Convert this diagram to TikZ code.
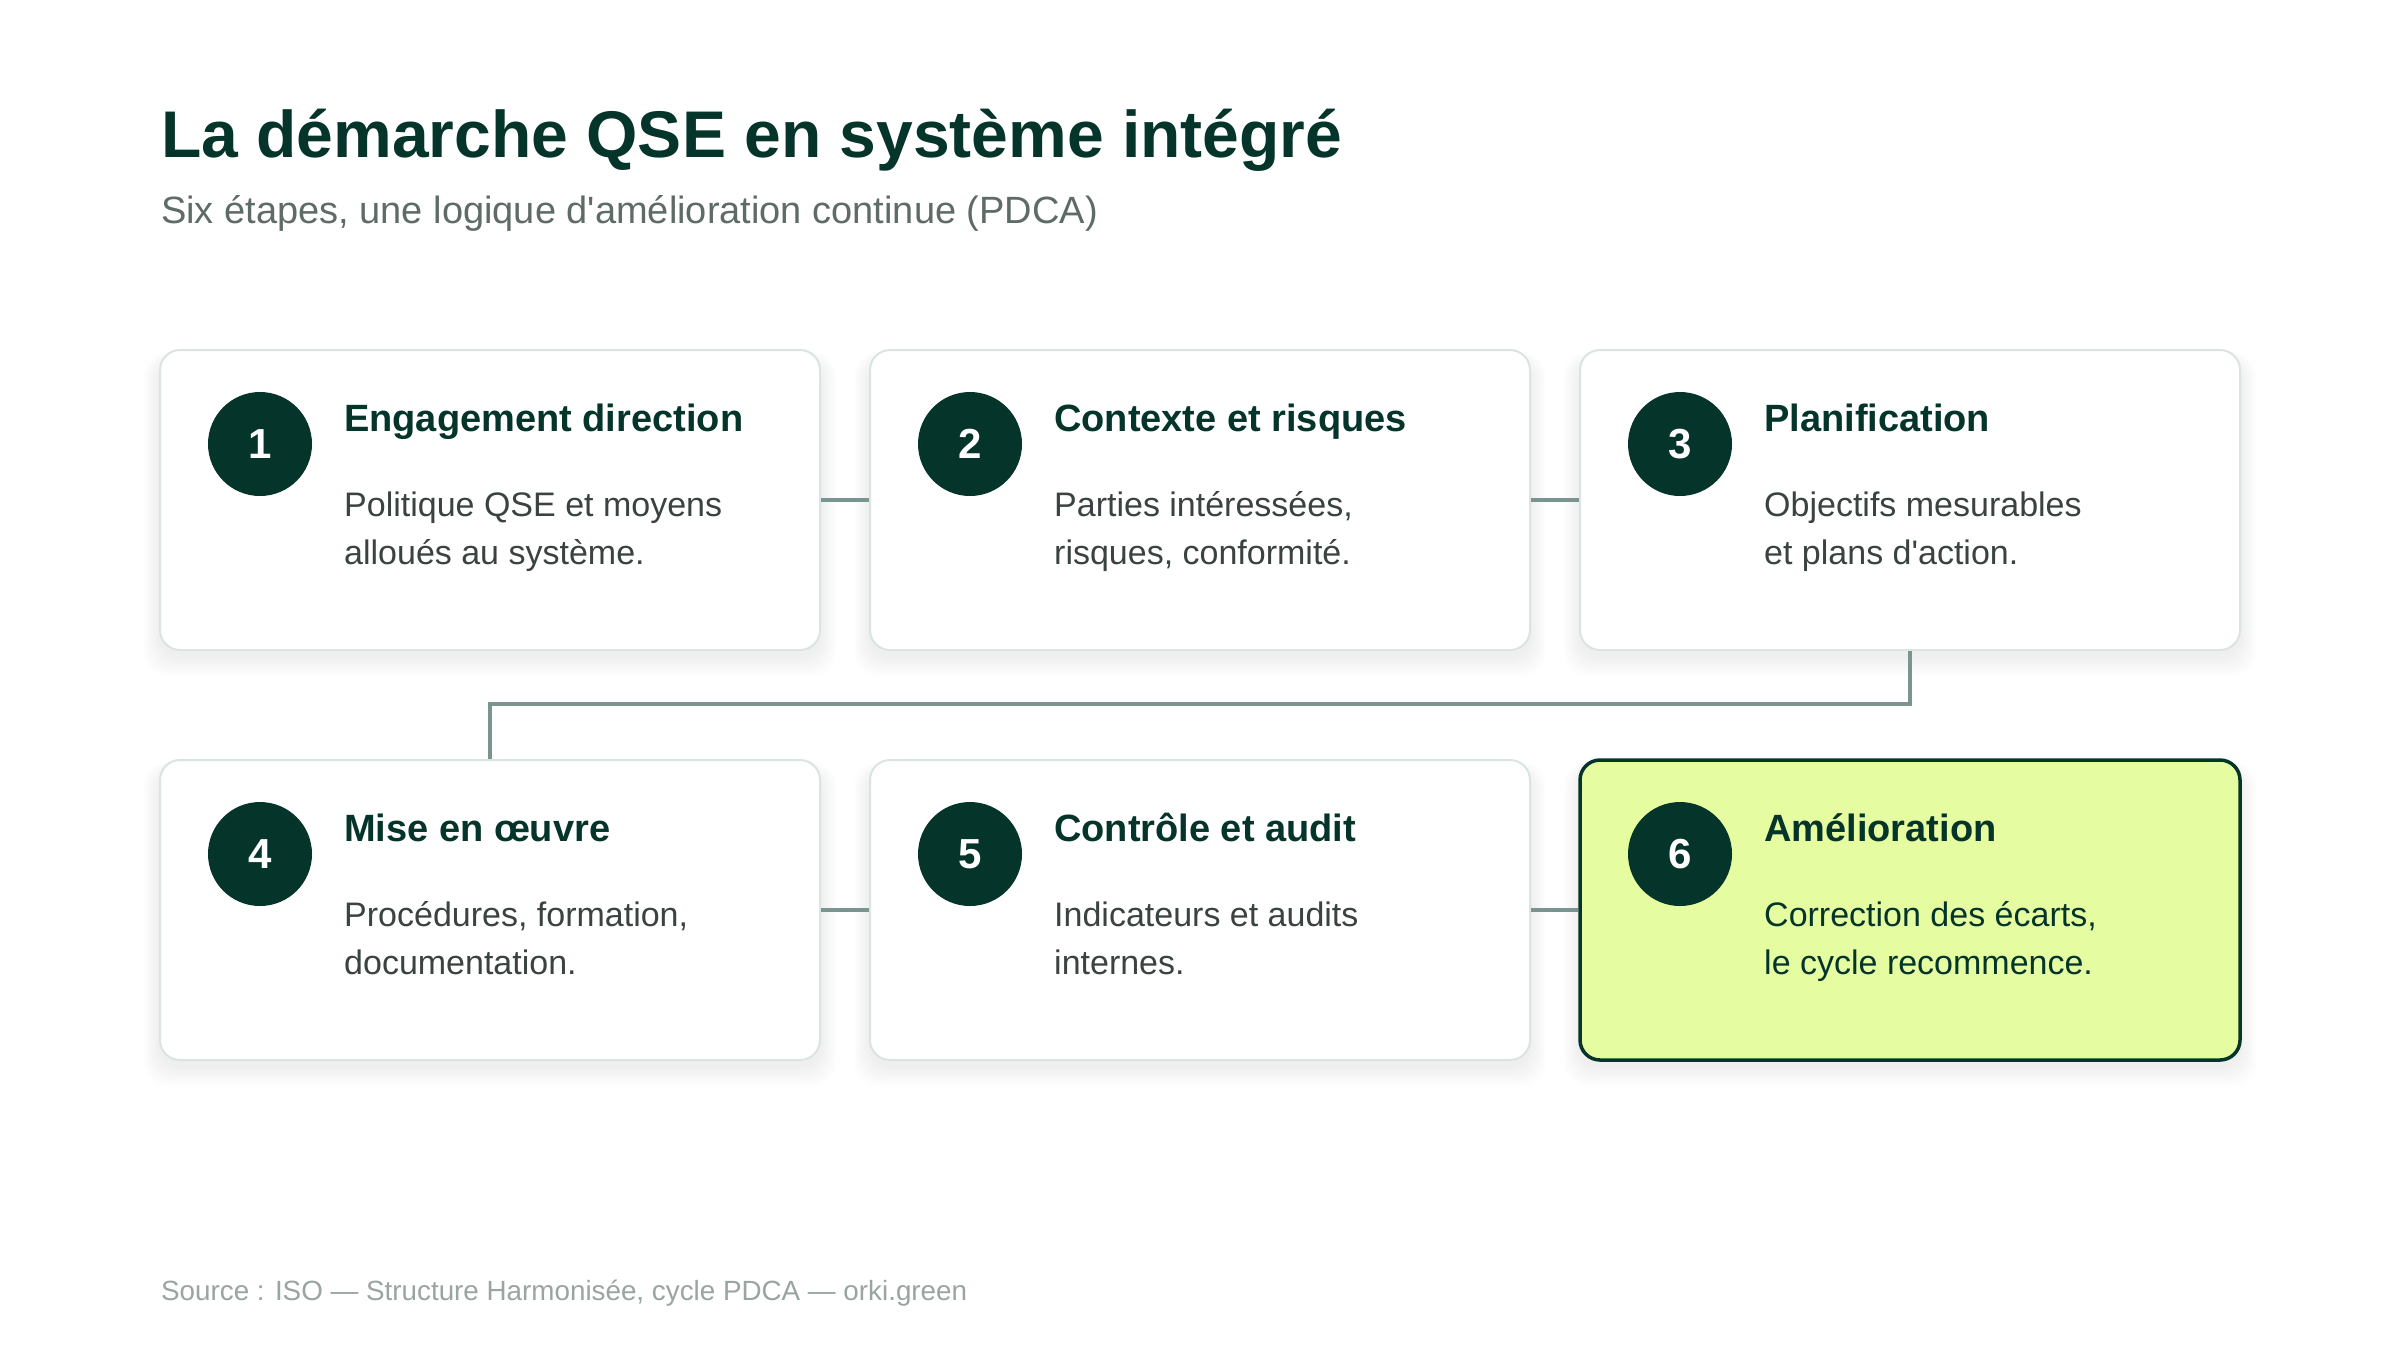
\documentclass[tikz,border=0pt]{standalone}
\usepackage{fontspec}
\setmainfont{Liberation Sans}[Ligatures=TeXOff]
\definecolor{dkgreen}{HTML}{05352A}
\definecolor{subgray}{HTML}{5E6B67}
\definecolor{descgray}{HTML}{3A4341}
\definecolor{cardline}{HTML}{DCE4E1}
\definecolor{conn}{HTML}{7A9590}
\definecolor{lime}{HTML}{E6FCA0}
\definecolor{footgray}{HTML}{9AA4A1}
\tikzset{
  card/.style={rectangle, rounded corners=20pt, minimum width=660pt, minimum height=300pt, inner sep=0pt, draw=cardline, line width=2pt, fill=white},
  cardhi/.style={card, draw=dkgreen, line width=3.5pt, fill=lime},
  numdot/.style={circle, fill=dkgreen, minimum size=104pt, inner sep=0pt, text=white, font=\fontsize{42}{50}\selectfont\bfseries},
  cardtitle/.style={anchor=base west, inner sep=0pt, text=dkgreen, font=\fontsize{38}{46}\selectfont\bfseries},
  carddesc/.style={anchor=base west, inner sep=0pt, text=descgray, font=\fontsize{34}{48}\selectfont},
  connector/.style={draw=conn, line width=4pt}
}
\newcommand\qsecard[9]{%
  \foreach \k in {1,...,8}{%
    \fill[black, opacity=0.007, rounded corners=24pt] (#2-330-2*\k, #3-150+10-\k) rectangle (#2+330+2*\k, #3+150+6+2.5*\k);
  }
  \node[#8] (#1) at (#2,#3) {};
  \node[numdot] (#1n) at (#2-230,#3-56) {#4};
  \node[cardtitle] (#1t) at (#2-146,#3-69) {#5};
  \node[carddesc, text=#9] (#1a) at (#2-146,#3+16) {#6};
  \node[carddesc, text=#9] (#1b) at (#2-146,#3+64) {#7};
}
\begin{document}
\begin{tikzpicture}[x=1pt,y=-1pt]
\useasboundingbox (0,0) rectangle (2400,1350);
\fill[white] (0,0) rectangle (2400,1350);
\node[anchor=base west, inner sep=0pt, text=dkgreen, font=\fontsize{66}{79}\selectfont\bfseries] (title) at (161,157) {La démarche QSE en système intégré};
\node[anchor=base west, inner sep=0pt, text=subgray, font=\fontsize{38}{46}\selectfont] (subtitle) at (161,223) {Six étapes, une logique d'amélioration continue (PDCA)};
\qsecard{c1}{490}{500}{1}{Engagement direction}{Politique QSE et moyens}{alloués au système.}{card}{descgray}
\qsecard{c2}{1200}{500}{2}{Contexte et risques}{Parties intéressées,}{risques, conformité.}{card}{descgray}
\qsecard{c3}{1910}{500}{3}{Planification}{Objectifs mesurables}{et plans d'action.}{card}{descgray}
\qsecard{c4}{490}{910}{4}{Mise en œuvre}{Procédures, formation,}{documentation.}{card}{descgray}
\qsecard{c5}{1200}{910}{5}{Contrôle et audit}{Indicateurs et audits}{internes.}{card}{descgray}
\qsecard{c6}{1910}{910}{6}{Amélioration}{Correction des écarts,}{le cycle recommence.}{cardhi}{dkgreen}
\path[connector] (c1.east) -- (c2.west);
\path[connector] (c2.east) -- (c3.west);
\path[connector] (c4.east) -- (c5.west);
\path[connector] (c5.east) -- (c6.west);
\path[connector] (c3.south) -- ++(0,53) coordinate (bend) -| (c4.north);
\node[anchor=base west, inner sep=0pt, text=footgray, font=\fontsize{27.8}{34}\selectfont] (footer) at (161,1300) {Source : ISO — Structure Harmonisée, cycle PDCA — orki.green};
\end{tikzpicture}
\end{document}
